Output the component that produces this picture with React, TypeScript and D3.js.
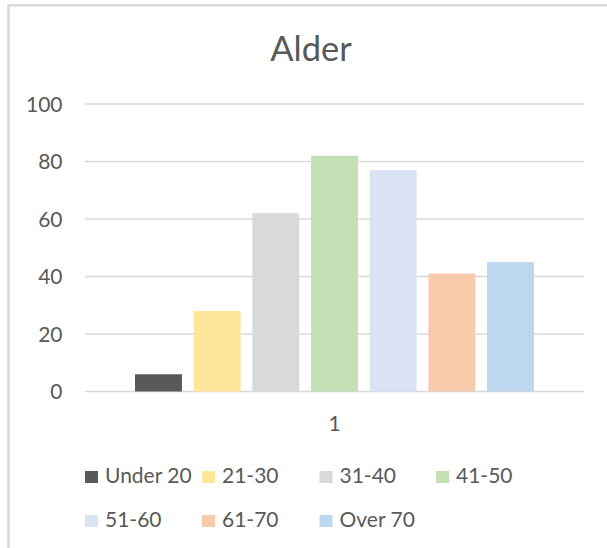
import React from "react";
import * as d3 from "d3";

const categories = ["1"];
const seriesNames = ["Under 20", "21-30", "31-40", "41-50", "51-60", "61-70", "Over 70"];
const seriesValues = [6, 28, 62, 82, 77, 41, 45];
const seriesColors = ["#595959", "#FFE699", "#D9D9D9", "#C5E0B4", "#DAE3F3", "#F8CBAD", "#BDD7EE"];
const yTicks = [0, 20, 40, 60, 80, 100];
const title = "Alder";

const W = 607;
const H = 548;
const FONT = "Lato, 'Open Sans', sans-serif";
const TEXT = "#595959";
const GRID = "#D9D9D9";

export default function App() {
  const plotLeft = 85;
  const plotRight = 584;
  const plotTop = 104;
  const plotBottom = 391.5;

  const y = d3.scaleLinear().domain([0, 100]).range([plotBottom, plotTop]);
  const x0 = d3.scaleBand<string>().domain(categories).range([plotLeft, plotRight]).padding(0.1114);
  const x1 = d3
    .scaleBand<string>()
    .domain(seriesNames)
    .range([0, x0.bandwidth()])
    .paddingInner(0.2)
    .paddingOuter(0);

  const legendCols = [85, 202, 319.5, 436];
  const legendRows = [477, 521];

  return (
    <svg
      width={W}
      height={H}
      style={{ position: "absolute", left: 0, top: 0, background: "#fff" }}
      fontFamily={FONT}
    >
      <rect x={0} y={0} width={W} height={H} fill="#fff" />
      <rect x={8.5} y={5.3} width={W + 20} height={H + 20} fill="none" stroke="#D9D9D9" strokeWidth={2.5} />
      <text x={311} y={60.5} textAnchor="middle" fontSize={34.5} fill={TEXT}>
        {title}
      </text>
      {yTicks.map((t) => (
        <g key={t}>
          <line x1={plotLeft} x2={plotRight} y1={y(t)} y2={y(t)} stroke={GRID} strokeWidth={1.5} />
          <text x={62.5} y={y(t) + 7.5} textAnchor="end" fontSize={21} fill={TEXT}>
            {t}
          </text>
        </g>
      ))}
      {categories.map((c) => (
        <g key={c} transform={`translate(${x0(c)},0)`}>
          {seriesNames.map((s, i) => (
            <rect
              key={s}
              x={x1(s)}
              y={y(seriesValues[i])}
              width={x1.bandwidth()}
              height={y(0) - y(seriesValues[i])}
              fill={seriesColors[i]}
            />
          ))}
          <text x={x0.bandwidth() / 2} y={430.5} textAnchor="middle" fontSize={21} fill={TEXT}>
            {c}
          </text>
        </g>
      ))}
      {seriesNames.map((s, i) => {
        const cx = legendCols[i % 4];
        const cy = legendRows[Math.floor(i / 4)];
        return (
          <g key={s}>
            <rect x={cx} y={cy - 6} width={13} height={12} fill={seriesColors[i]} />
            <text x={cx + 20} y={cy + 6} fontSize={21} fill={TEXT}>
              {s}
            </text>
          </g>
        );
      })}
    </svg>
  );
}
